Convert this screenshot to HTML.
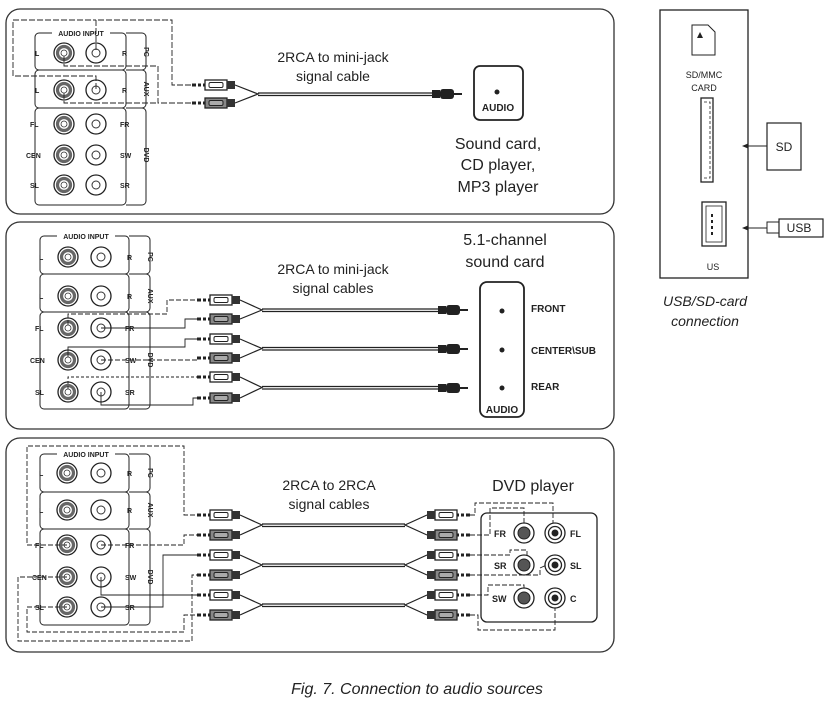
<!DOCTYPE html>
<html><head><meta charset="utf-8"><style>
html,body{margin:0;padding:0;background:#fff;}
svg{display:block;}
text{font-family:"Liberation Sans",sans-serif;fill:#222;}
.b{font-weight:bold;font-size:9px;}
.s{font-weight:bold;font-size:7px;}
.t{font-size:15px;}
</style></head><body>
<svg width="832" height="705" viewBox="0 0 832 705" xmlns="http://www.w3.org/2000/svg">
<defs>
<g id="jd"><circle r="10" fill="#fff" stroke="#222" stroke-width="1.3"/><circle r="6.5" fill="#fff" stroke="#666" stroke-width="3.2"/><circle r="3" fill="#fff" stroke="#333" stroke-width="0.8"/></g>
<g id="jw"><circle r="10" fill="#fff" stroke="#222" stroke-width="1.3"/><circle r="4" fill="#fff" stroke="#333" stroke-width="1"/></g>
<g id="pl"><line x1="0" y1="0" x2="13" y2="0" stroke="#222" stroke-width="3"/><rect x="4" y="-2" width="2" height="4" fill="#fff"/><rect x="9" y="-2" width="2" height="4" fill="#fff"/><rect x="13" y="-5" width="22" height="10" fill="#fff" stroke="#222" stroke-width="1.3"/><rect x="17" y="-2.5" width="14" height="5" rx="1.5" fill="#fff" stroke="#222"/><rect x="35" y="-4" width="8" height="8" fill="#333"/></g>
<g id="pd"><line x1="0" y1="0" x2="13" y2="0" stroke="#222" stroke-width="3"/><rect x="4" y="-2" width="2" height="4" fill="#fff"/><rect x="9" y="-2" width="2" height="4" fill="#fff"/><rect x="13" y="-5" width="22" height="10" fill="#888" stroke="#222" stroke-width="1.3"/><rect x="17" y="-2.5" width="14" height="5" rx="1.5" fill="#aaa" stroke="#222"/><rect x="35" y="-4" width="8" height="8" fill="#333"/></g>
<g id="mj"><rect x="0" y="-4" width="8" height="8" fill="#222"/><rect x="8" y="-5" width="14" height="10" rx="3" fill="#222"/><line x1="22" y1="0" x2="30" y2="0" stroke="#222" stroke-width="2"/></g>
</defs>
<g fill="none" stroke="#333" stroke-width="1.3">
<rect x="6" y="9" width="608" height="205" rx="14"/>
<rect x="6" y="222" width="608" height="207" rx="14"/>
<rect x="6" y="438" width="608" height="214" rx="14"/>
</g>

<!-- Panel 1 board -->
<g fill="none" stroke="#222" stroke-width="1">
<rect x="35" y="33" width="91" height="37" rx="4"/><path d="M126 33h16a4 4 0 0 1 4 4v29a4 4 0 0 1-4 4h-16"/>
<rect x="35" y="70" width="91" height="38" rx="4"/><path d="M126 70h16a4 4 0 0 1 4 4v30a4 4 0 0 1-4 4h-16"/>
<rect x="35" y="108" width="91" height="97" rx="4"/><path d="M126 108h16a4 4 0 0 1 4 4v89a4 4 0 0 1-4 4h-16"/>
</g>
<rect x="52" y="28" width="58" height="10" fill="#fff"/>
<text x="81" y="36" class="s" text-anchor="middle">AUDIO INPUT</text>
<use href="#jd" x="64" y="53"/><use href="#jw" x="96" y="53"/>
<use href="#jd" x="64" y="90"/><use href="#jw" x="96" y="90"/>
<use href="#jd" x="64" y="124"/><use href="#jw" x="96" y="124"/>
<use href="#jd" x="64" y="155"/><use href="#jw" x="96" y="155"/>
<use href="#jd" x="64" y="185"/><use href="#jw" x="96" y="185"/>
<g class="s"><text x="35" y="56" class="s">L</text><text x="122" y="56" class="s">R</text><text x="35" y="93" class="s">L</text><text x="122" y="93" class="s">R</text>
<text x="30" y="127" class="s">FL</text><text x="120" y="127" class="s">FR</text><text x="26" y="158" class="s">CEN</text><text x="120" y="158" class="s">SW</text><text x="30" y="188" class="s">SL</text><text x="120" y="188" class="s">SR</text></g>
<g class="s"><text transform="translate(144,52) rotate(90)" text-anchor="middle" class="s">PC</text><text transform="translate(144,89) rotate(90)" text-anchor="middle" class="s">AUX</text><text transform="translate(144,155) rotate(90)" text-anchor="middle" class="s">DVD</text></g>
<g fill="none" stroke="#222" stroke-width="0.9" stroke-dasharray="6,2">
<path d="M96 50V20H172V85H192"/><path d="M96 89V76H13V20H96"/><path d="M64 56V66H158V103H192"/><path d="M64 93V103H158"/>
</g>
<use href="#pl" x="192" y="85"/><use href="#pd" x="192" y="103"/>
<g fill="none" stroke="#222" stroke-width="1.2"><path d="M235 85L258 94L235 103"/><path d="M258 93H432M258 95.5H432"/></g>
<use href="#mj" x="432" y="94"/>
<rect x="474" y="66" width="49" height="54" rx="6" fill="none" stroke="#222" stroke-width="1.8"/>
<circle cx="497" cy="92" r="2.5" fill="#222"/>
<text x="498" y="111" class="b" text-anchor="middle" style="font-size:10px">AUDIO</text>
<text x="333" y="62" class="t" text-anchor="middle" style="font-size:14px">2RCA to mini-jack</text>
<text x="333" y="81" class="t" text-anchor="middle" style="font-size:14px">signal cable</text>
<text x="498" y="149" class="t" text-anchor="middle" style="font-size:16px">Sound card,</text>
<text x="498" y="170" class="t" text-anchor="middle" style="font-size:16px">CD player,</text>
<text x="498" y="192" class="t" text-anchor="middle" style="font-size:16px">MP3 player</text>

<!-- Panel 2 board -->
<g fill="none" stroke="#222" stroke-width="1">
<rect x="40" y="236" width="89" height="38" rx="4"/><path d="M129 236h17a4 4 0 0 1 4 4v30a4 4 0 0 1-4 4h-17"/>
<rect x="40" y="274" width="89" height="38" rx="4"/><path d="M129 274h17a4 4 0 0 1 4 4v30a4 4 0 0 1-4 4h-17"/>
<rect x="40" y="312" width="89" height="97" rx="4"/><path d="M129 312h17a4 4 0 0 1 4 4v89a4 4 0 0 1-4 4h-17"/>
</g>
<rect x="57" y="231" width="58" height="10" fill="#fff"/>
<text x="86" y="239" class="s" text-anchor="middle">AUDIO INPUT</text>
<use href="#jd" x="68" y="257"/><use href="#jw" x="101" y="257"/>
<use href="#jd" x="68" y="296"/><use href="#jw" x="101" y="296"/>
<use href="#jd" x="68" y="328"/><use href="#jw" x="101" y="328"/>
<use href="#jd" x="68" y="360"/><use href="#jw" x="101" y="360"/>
<use href="#jd" x="68" y="392"/><use href="#jw" x="101" y="392"/>
<text x="39" y="260" class="s">L</text><text x="127" y="260" class="s">R</text><text x="39" y="299" class="s">L</text><text x="127" y="299" class="s">R</text>
<text x="35" y="331" class="s">FL</text><text x="125" y="331" class="s">FR</text><text x="30" y="363" class="s">CEN</text><text x="125" y="363" class="s">SW</text><text x="35" y="395" class="s">SL</text><text x="125" y="395" class="s">SR</text>
<text transform="translate(148,257) rotate(90)" text-anchor="middle" class="s">PC</text><text transform="translate(148,296) rotate(90)" text-anchor="middle" class="s">AUX</text><text transform="translate(148,360) rotate(90)" text-anchor="middle" class="s">DVD</text>
<g fill="none" stroke="#222" stroke-width="0.9">
<path d="M68 325V314H167V300H197" stroke-dasharray="5,2"/><path d="M101 328H185V319H197"/>
<path d="M68 357V347H185V339H197"/><path d="M101 360H197" stroke-dasharray="5,2"/>
<path d="M68 389V377H197" stroke-dasharray="3,2"/><path d="M101 392V405H193V398H197"/>
</g>
<use href="#pl" x="197" y="300"/><use href="#pd" x="197" y="319"/>
<use href="#pl" x="197" y="339"/><use href="#pd" x="197" y="358"/>
<use href="#pl" x="197" y="377"/><use href="#pd" x="197" y="398"/>
<g fill="none" stroke="#222" stroke-width="1.2">
<path d="M240 300L262 310L240 319"/><path d="M262 309H440M262 311.5H440"/>
<path d="M240 339L262 348.5L240 358"/><path d="M262 347.5H440M262 350H440"/>
<path d="M240 377L262 387.5L240 398"/><path d="M262 386.5H440M262 389H440"/>
</g>
<use href="#mj" x="438" y="310"/><use href="#mj" x="438" y="349"/><use href="#mj" x="438" y="388"/>
<rect x="480" y="282" width="44" height="135" rx="7" fill="none" stroke="#222" stroke-width="1.8"/>
<circle cx="502" cy="311" r="2.5" fill="#222"/><circle cx="502" cy="350" r="2.5" fill="#222"/><circle cx="502" cy="388" r="2.5" fill="#222"/>
<text x="502" y="413" class="b" text-anchor="middle" style="font-size:10px">AUDIO</text>
<text x="531" y="312" class="b" style="font-size:10px">FRONT</text>
<text x="531" y="354" class="b" style="font-size:10px">CENTER\SUB</text>
<text x="531" y="390" class="b" style="font-size:10px">REAR</text>
<text x="505" y="245" class="t" text-anchor="middle" style="font-size:16px">5.1-channel</text>
<text x="505" y="267" class="t" text-anchor="middle" style="font-size:16px">sound card</text>
<text x="333" y="274" class="t" text-anchor="middle" style="font-size:14px">2RCA to mini-jack</text>
<text x="333" y="293" class="t" text-anchor="middle" style="font-size:14px">signal cables</text>

<!-- Panel 3 board -->
<g fill="none" stroke="#222" stroke-width="1">
<rect x="40" y="454" width="89" height="38" rx="4"/><path d="M129 454h17a4 4 0 0 1 4 4v30a4 4 0 0 1-4 4h-17"/>
<rect x="40" y="492" width="89" height="37" rx="4"/><path d="M129 492h17a4 4 0 0 1 4 4v29a4 4 0 0 1-4 4h-17"/>
<rect x="40" y="529" width="89" height="96" rx="4"/><path d="M129 529h17a4 4 0 0 1 4 4v88a4 4 0 0 1-4 4h-17"/>
</g>
<rect x="57" y="449" width="58" height="10" fill="#fff"/>
<text x="86" y="457" class="s" text-anchor="middle">AUDIO INPUT</text>
<use href="#jd" x="67" y="473"/><use href="#jw" x="101" y="473"/>
<use href="#jd" x="67" y="510"/><use href="#jw" x="101" y="510"/>
<use href="#jd" x="67" y="545"/><use href="#jw" x="101" y="545"/>
<use href="#jd" x="67" y="577"/><use href="#jw" x="101" y="577"/>
<use href="#jd" x="67" y="607"/><use href="#jw" x="101" y="607"/>
<text x="39" y="476" class="s">L</text><text x="127" y="476" class="s">R</text><text x="39" y="513" class="s">L</text><text x="127" y="513" class="s">R</text>
<text x="35" y="548" class="s">FL</text><text x="125" y="548" class="s">FR</text><text x="32" y="580" class="s">CEN</text><text x="125" y="580" class="s">SW</text><text x="35" y="610" class="s">SL</text><text x="125" y="610" class="s">SR</text>
<text transform="translate(148,473) rotate(90)" text-anchor="middle" class="s">PC</text><text transform="translate(148,510) rotate(90)" text-anchor="middle" class="s">AUX</text><text transform="translate(148,577) rotate(90)" text-anchor="middle" class="s">DVD</text>
<g fill="none" stroke="#222" stroke-width="0.9">
<path d="M67 545H27V446H184V515H197" stroke-dasharray="5,2"/><path d="M101 545H184V535H197" stroke-dasharray="5,2"/>
<path d="M101 607H163V555H197"/><path d="M67 577H18V641H192V575H197" stroke-dasharray="5,2"/>
<path d="M101 577V595H197"/><path d="M67 607H27V632H184V615H197" stroke-dasharray="5,2"/>
</g>
<use href="#pl" x="197" y="515"/><use href="#pd" x="197" y="535"/>
<use href="#pl" x="197" y="555"/><use href="#pd" x="197" y="575"/>
<use href="#pl" x="197" y="595"/><use href="#pd" x="197" y="615"/>
<g fill="none" stroke="#222" stroke-width="1.2">
<path d="M240 515L262 525L240 535"/><path d="M262 524H405M262 526.5H405"/><path d="M427 515L405 525L427 535"/>
<path d="M240 555L262 565L240 575"/><path d="M262 564H405M262 566.5H405"/><path d="M427 555L405 565L427 575"/>
<path d="M240 595L262 605L240 615"/><path d="M262 604H405M262 606.5H405"/><path d="M427 595L405 605L427 615"/>
</g>
<g transform="translate(470,0) scale(-1,1)">
<use href="#pl" x="0" y="515"/><use href="#pd" x="0" y="535"/>
<use href="#pl" x="0" y="555"/><use href="#pd" x="0" y="575"/>
<use href="#pl" x="0" y="595"/><use href="#pd" x="0" y="615"/>
</g>
<rect x="481" y="513" width="116" height="109" rx="6" fill="none" stroke="#222" stroke-width="1.3"/>
<g fill="none" stroke="#222" stroke-width="0.9" stroke-dasharray="5,2">
<path d="M470 515H475V503H553V530"/><path d="M470 535H490V508H524V530"/>
<path d="M470 555H510V550H527V562"/><path d="M470 575H540V568L553 562"/>
<path d="M470 595H488V585H524V595"/><path d="M470 615H478V630H555V600"/>
</g>
<g>
<circle cx="524" cy="533" r="10" fill="#fff" stroke="#222" stroke-width="1.3"/><circle cx="524" cy="533" r="6" fill="#555" stroke="#222"/>
<circle cx="555" cy="533" r="10" fill="#fff" stroke="#222" stroke-width="1.3"/><circle cx="555" cy="533" r="6.5" fill="#fff" stroke="#222" stroke-width="1.3"/><circle cx="555" cy="533" r="3.5" fill="#222"/>
<circle cx="524" cy="565" r="10" fill="#fff" stroke="#222" stroke-width="1.3"/><circle cx="524" cy="565" r="6" fill="#555" stroke="#222"/>
<circle cx="555" cy="565" r="10" fill="#fff" stroke="#222" stroke-width="1.3"/><circle cx="555" cy="565" r="6.5" fill="#fff" stroke="#222" stroke-width="1.3"/><circle cx="555" cy="565" r="3.5" fill="#222"/>
<circle cx="524" cy="598" r="10" fill="#fff" stroke="#222" stroke-width="1.3"/><circle cx="524" cy="598" r="6" fill="#555" stroke="#222"/>
<circle cx="555" cy="598" r="10" fill="#fff" stroke="#222" stroke-width="1.3"/><circle cx="555" cy="598" r="6.5" fill="#fff" stroke="#222" stroke-width="1.3"/><circle cx="555" cy="598" r="3.5" fill="#222"/>
</g>
<text x="494" y="537" class="b">FR</text><text x="570" y="537" class="b">FL</text>
<text x="494" y="569" class="b">SR</text><text x="570" y="569" class="b">SL</text>
<text x="492" y="602" class="b">SW</text><text x="570" y="602" class="b">C</text>
<text x="533" y="491" class="t" text-anchor="middle" style="font-size:16px">DVD player</text>
<text x="329" y="490" class="t" text-anchor="middle" style="font-size:14px">2RCA to 2RCA</text>
<text x="329" y="509" class="t" text-anchor="middle" style="font-size:14px">signal cables</text>

<!-- Right -->
<rect x="660" y="10" width="88" height="268" fill="none" stroke="#222" stroke-width="1.3"/>
<path d="M692 25H708L715 32V55H692Z" fill="#fff" stroke="#222" stroke-width="1"/>
<path d="M697 38L700 32L703 38Z" fill="#222"/>
<text x="704" y="78" text-anchor="middle" style="font-size:9px">SD/MMC</text>
<text x="704" y="91" text-anchor="middle" style="font-size:9px">CARD</text>
<rect x="701" y="98" width="12" height="84" fill="none" stroke="#222" stroke-width="1.3"/>
<path d="M704 102H710V178H704" fill="none" stroke="#222" stroke-width="0.8" stroke-dasharray="3,2"/>
<rect x="702" y="202" width="24" height="44" fill="none" stroke="#222" stroke-width="1.3"/>
<rect x="706" y="206" width="16" height="36" fill="none" stroke="#222" stroke-width="0.8"/>
<path d="M712 214V236" stroke="#222" stroke-width="2" stroke-dasharray="3,3"/>
<text x="713" y="270" text-anchor="middle" style="font-size:9px">US</text>
<rect x="767" y="123" width="34" height="47" fill="none" stroke="#222" stroke-width="1.2"/>
<text x="784" y="151" text-anchor="middle" style="font-size:12px">SD</text>
<line x1="744" y1="146" x2="767" y2="146" stroke="#222"/><path d="M742 146L748 143.5V148.5Z" fill="#222"/>
<rect x="767" y="222" width="12" height="11" fill="none" stroke="#222"/>
<rect x="779" y="219" width="44" height="18" fill="none" stroke="#222" stroke-width="1.2"/>
<text x="799" y="232" text-anchor="middle" style="font-size:12px">USB</text>
<line x1="744" y1="228" x2="767" y2="228" stroke="#222"/><path d="M742 228L748 225.5V230.5Z" fill="#222"/>
<text x="705" y="306" text-anchor="middle" style="font-size:14px;font-style:italic">USB/SD-card</text>
<text x="705" y="326" text-anchor="middle" style="font-size:14px;font-style:italic">connection</text>
<text x="417" y="694" text-anchor="middle" style="font-size:16px;font-style:italic">Fig. 7. Connection to audio sources</text>
</svg>
</body></html>
